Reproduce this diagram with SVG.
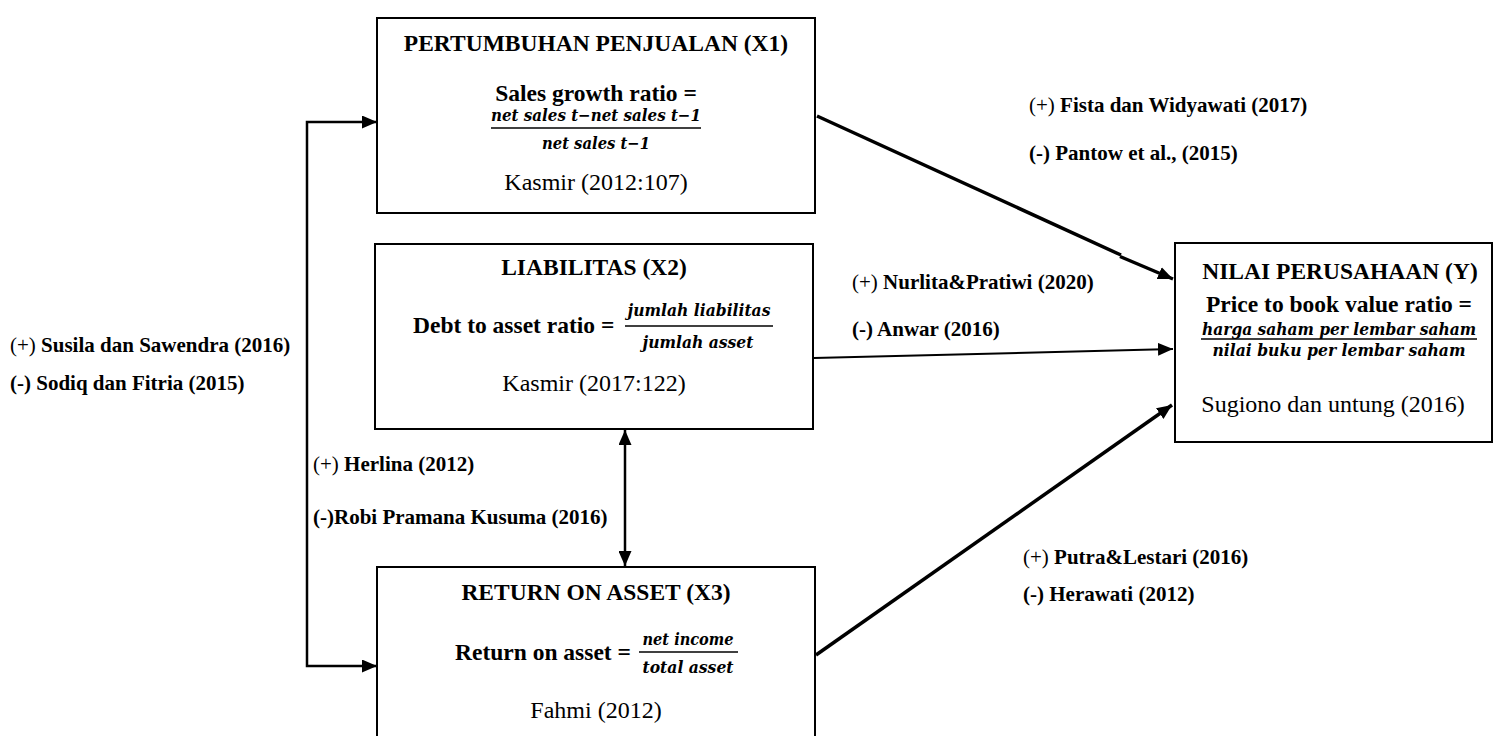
<svg xmlns="http://www.w3.org/2000/svg" width="1499" height="736" viewBox="0 0 1499 736">
<style>
.box{fill:#fff;stroke:#000;stroke-width:2}
.t{font-family:"Liberation Serif","Times New Roman",serif;font-weight:bold;font-size:23.5px;text-anchor:middle;fill:#000}
.ts{font-family:"Liberation Serif","Times New Roman",serif;font-weight:bold;font-size:23.5px;fill:#000}
.c{font-family:"Liberation Serif","Times New Roman",serif;font-size:24px;text-anchor:middle;fill:#000}
.m{font-family:"DejaVu Serif Condensed","DejaVu Serif",serif;font-weight:bold;font-style:italic;font-size:17px;text-anchor:middle;fill:#000}
.lb{font-family:"Liberation Serif","Times New Roman",serif;font-weight:bold;font-size:21px;fill:#000}
.r{font-weight:normal}
.fl{stroke:#000;stroke-width:1.6}
.thick{stroke:#000;stroke-width:3.5;fill:none}
.thin{stroke:#000;stroke-width:2;fill:none}
.med{stroke:#000;stroke-width:2.5;fill:none}
</style>
<defs>
<marker id="ah" viewBox="0 0 15 13" refX="15" refY="6.5" markerWidth="15" markerHeight="13" markerUnits="userSpaceOnUse" orient="auto-start-reverse">
<path d="M0,0 L15,6.5 L0,13 z" fill="#000"/>
</marker>
</defs>
<rect width="1499" height="736" fill="#fff"/>

<g id="connectors">
<path class="med" d="M377,122 H307 V666 H377" marker-start="url(#ah)" marker-end="url(#ah)"/>
<line class="med" x1="625" y1="430" x2="625" y2="566" marker-start="url(#ah)" marker-end="url(#ah)"/>
<line class="thick" x1="817" y1="116" x2="1121" y2="255"/>
<line class="thick" x1="1120" y1="256.5" x2="1173" y2="279" marker-end="url(#ah)"/>
<line class="thin" x1="814" y1="358" x2="1173" y2="349" marker-end="url(#ah)"/>
<line class="thick" x1="816" y1="655" x2="1172" y2="405" marker-end="url(#ah)"/>
</g>

<g id="node-x1">
<rect class="box" x="377" y="18" width="438" height="195"/>
<text class="t" x="596" y="51">PERTUMBUHAN PENJUALAN (X1)</text>
<text class="t" x="596" y="101">Sales growth ratio =</text>
<text class="m" x="596" y="121" textLength="210" lengthAdjust="spacingAndGlyphs">net sales t−net sales t−1</text>
<line class="fl" x1="491" y1="128" x2="701" y2="128"/>
<text class="m" x="596" y="149" textLength="108" lengthAdjust="spacingAndGlyphs">net sales t−1</text>
<text class="c" x="596" y="190">Kasmir (2012:107)</text>
</g>

<g id="node-x2">
<rect class="box" x="375" y="244" width="438" height="185"/>
<text class="t" x="594" y="275">LIABILITAS (X2)</text>
<text class="ts" x="413" y="333">Debt to asset ratio =</text>
<text class="m" x="699" y="316" textLength="143" lengthAdjust="spacingAndGlyphs">jumlah liabilitas</text>
<line class="fl" x1="625" y1="326" x2="773" y2="326"/>
<text class="m" x="698" y="348" textLength="111" lengthAdjust="spacingAndGlyphs">jumlah asset</text>
<text class="c" x="594" y="391">Kasmir (2017:122)</text>
</g>

<g id="node-x3">
<rect class="box" x="377" y="567" width="438" height="180"/>
<text class="t" x="596" y="600">RETURN ON ASSET (X3)</text>
<text class="ts" x="455" y="660">Return on asset =</text>
<text class="m" x="688" y="645" textLength="91" lengthAdjust="spacingAndGlyphs">net income</text>
<line class="fl" x1="639" y1="652" x2="738" y2="652"/>
<text class="m" x="688" y="673" textLength="91" lengthAdjust="spacingAndGlyphs">total asset</text>
<text class="c" x="596" y="718">Fahmi (2012)</text>
</g>

<g id="node-y">
<rect class="box" x="1175" y="243" width="317" height="199"/>
<text class="t" x="1340" y="279">NILAI PERUSAHAAN (Y)</text>
<text class="t" x="1339" y="312">Price to book value ratio =</text>
<text class="m" x="1339" y="335" textLength="274" lengthAdjust="spacingAndGlyphs">harga saham per lembar saham</text>
<line class="fl" x1="1201" y1="339" x2="1477" y2="339"/>
<text class="m" x="1339" y="356" textLength="253" lengthAdjust="spacingAndGlyphs">nilai buku per lembar saham</text>
<text class="c" x="1333" y="412">Sugiono dan untung (2016)</text>
</g>

<g id="labels">
<text class="lb" x="1029" y="112"><tspan class="r">(+)</tspan> Fista dan Widyawati (2017)</text>
<text class="lb" x="1029" y="160">(-) Pantow et al., (2015)</text>
<text class="lb" x="852" y="289"><tspan class="r">(+)</tspan> Nurlita&amp;Pratiwi (2020)</text>
<text class="lb" x="852" y="336">(-) Anwar (2016)</text>
<text class="lb" x="1023" y="564"><tspan class="r">(+)</tspan> Putra&amp;Lestari (2016)</text>
<text class="lb" x="1023" y="601">(-) Herawati (2012)</text>
<text class="lb" x="10" y="352"><tspan class="r">(+)</tspan> Susila dan Sawendra (2016)</text>
<text class="lb" x="10" y="390">(-) Sodiq dan Fitria (2015)</text>
<text class="lb" x="313" y="471"><tspan class="r">(+)</tspan> Herlina (2012)</text>
<text class="lb" x="313" y="524">(-)Robi Pramana Kusuma (2016)</text>
</g>
</svg>
